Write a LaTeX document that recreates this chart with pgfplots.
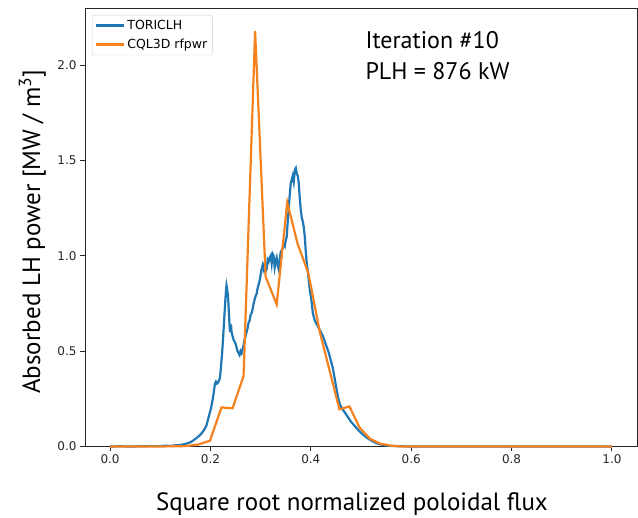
\documentclass[border=0pt]{standalone}
\usepackage{fontspec}
\setmainfont{PT Sans}
\newfontfamily\dv{DejaVu Sans}
\usepackage{pgfplots}
\pgfplotsset{compat=1.18}
\definecolor{tblue}{HTML}{1F77B4}
\definecolor{torange}{HTML}{F5821F}
\begin{document}
\begin{tikzpicture}
\path[use as bounding box] (0,0) rectangle (638pt,518pt);
\begin{axis}[
  at={(85pt,71.5pt)}, anchor=south west,
  scale only axis, width=552pt, height=438.5pt,
  xmin=-0.05, xmax=1.05, ymin=0, ymax=2.30,
  clip=false,
  axis line style={black!85, line width=0.9pt},
  xtick={0,0.2,...,1.0}, ytick={0,0.5,...,2.0},
  xticklabel style={/pgf/number format/.cd, fixed, fixed zerofill, precision=1},
  yticklabel style={/pgf/number format/.cd, fixed, fixed zerofill, precision=1},
  /pgf/number format/assume math mode=true,
  ticklabel style={font=\dv\fontsize{12}{14}\selectfont, text=black!85},
  xtick pos=bottom, ytick pos=left,
  tick align=outside, major tick length=5pt,
  tick style={black!85, line width=0.9pt},
  legend cell align=left,
  legend style={at={(0,1)}, anchor=north west, xshift=7pt, yshift=-7pt,
    font=\dv\fontsize{12.5}{15}\selectfont, draw=black!20, rounded corners=2pt,
    inner xsep=3pt, inner ysep=3pt, row sep=4pt},
  legend image code/.code={\draw[#1, line width=2.2pt] (0pt,0pt) -- (28pt,0pt);},
]
\addplot[tblue, line width=2.2pt] coordinates {
(0.000,0.000)(0.020,0.001)(0.040,0.000)(0.060,0.001)(0.080,0.002)(0.100,0.002)
(0.110,0.004)(0.120,0.003)(0.130,0.006)(0.140,0.008)(0.148,0.012)(0.155,0.018)
(0.160,0.022)(0.165,0.030)(0.170,0.040)(0.175,0.050)(0.180,0.062)(0.184,0.075)
(0.188,0.090)(0.192,0.110)(0.195,0.140)(0.198,0.170)(0.201,0.200)(0.204,0.240)
(0.207,0.290)(0.209,0.330)(0.211,0.340)(0.213,0.330)(0.215,0.335)(0.217,0.345)
(0.219,0.360)(0.221,0.420)(0.223,0.480)(0.225,0.560)(0.227,0.650)(0.229,0.740)
(0.231,0.820)(0.232,0.845)(0.233,0.830)(0.235,0.790)(0.236,0.740)(0.237,0.690)
(0.238,0.640)(0.239,0.600)(0.240,0.620)(0.241,0.640)(0.242,0.600)(0.244,0.580)
(0.246,0.560)(0.248,0.550)(0.250,0.540)(0.252,0.520)(0.254,0.500)(0.256,0.490)
(0.258,0.480)(0.260,0.500)(0.262,0.490)(0.264,0.510)(0.266,0.530)(0.268,0.560)
(0.270,0.580)(0.272,0.600)(0.274,0.620)(0.276,0.650)(0.278,0.660)(0.280,0.690)
(0.282,0.700)(0.284,0.720)(0.286,0.750)(0.288,0.770)(0.290,0.790)(0.292,0.800)
(0.294,0.830)(0.296,0.850)(0.298,0.870)(0.300,0.900)(0.302,0.930)(0.304,0.950)
(0.306,0.930)(0.308,0.960)(0.310,0.920)(0.312,0.930)(0.314,0.980)(0.316,0.970)
(0.318,0.990)(0.320,1.000)(0.322,0.960)(0.324,1.010)(0.326,1.000)(0.328,0.940)
(0.330,0.970)(0.332,0.990)(0.334,0.950)(0.336,0.930)(0.338,0.980)(0.340,1.020)
(0.342,1.030)(0.344,1.040)(0.346,1.060)(0.348,1.050)(0.350,1.080)(0.352,1.100)
(0.354,1.180)(0.356,1.250)(0.358,1.320)(0.360,1.380)(0.362,1.400)(0.364,1.420)
(0.366,1.390)(0.368,1.450)(0.370,1.460)(0.372,1.430)(0.374,1.420)(0.376,1.380)
(0.378,1.300)(0.380,1.240)(0.382,1.200)(0.384,1.180)(0.386,1.150)(0.388,1.100)
(0.390,1.020)(0.392,0.960)(0.394,0.920)(0.396,0.870)(0.398,0.820)(0.400,0.790)
(0.402,0.750)(0.404,0.700)(0.406,0.680)(0.408,0.660)(0.410,0.650)(0.412,0.640)
(0.414,0.630)(0.416,0.620)(0.418,0.610)(0.420,0.600)(0.424,0.580)(0.428,0.550)
(0.432,0.520)(0.436,0.490)(0.440,0.450)(0.444,0.410)(0.448,0.350)(0.452,0.290)
(0.455,0.250)(0.458,0.220)(0.462,0.200)(0.466,0.185)(0.470,0.170)(0.475,0.150)
(0.480,0.130)(0.485,0.115)(0.490,0.100)(0.495,0.085)(0.500,0.072)(0.505,0.060)
(0.510,0.050)(0.515,0.040)(0.520,0.032)(0.525,0.025)(0.530,0.018)(0.535,0.014)
(0.540,0.010)(0.550,0.005)(0.560,0.003)(0.580,0.001)(0.600,0.000)(0.700,0.000)
(0.800,0.000)(0.900,0.000)(1.000,0.000)
};
\addlegendentry{TORICLH}
\addplot[torange, line width=2.2pt] coordinates {
(0.000,0.000)(0.100,0.000)(0.150,0.002)(0.175,0.010)(0.199,0.030)(0.222,0.205)
(0.244,0.200)(0.266,0.370)(0.289,2.180)(0.310,0.890)(0.332,0.745)(0.353,1.280)
(0.374,1.060)(0.395,0.910)(0.418,0.600)(0.457,0.195)(0.477,0.210)(0.497,0.100)
(0.518,0.040)(0.538,0.015)(0.560,0.004)(0.580,0.000)(0.700,0.000)(0.800,0.000)
(0.900,0.000)(1.000,0.000)
};
\addlegendentry{CQL3D rfpwr}
\node[anchor=base west, font=\fontsize{24}{28}\selectfont] at (axis cs:0.502,2.089) {Iteration \#10};
\node[anchor=base west, font=\fontsize{24}{28}\selectfont] at (axis cs:0.502,1.927) {PLH = 876 kW};
\node[anchor=base, font=\fontsize{25}{30}\selectfont] at (axis cs:0.482,-0.338) {Square root normalized poloidal flux};
\node[anchor=base, rotate=90, font=\fontsize{25}{30}\selectfont] at (axis cs:-0.1394,1.127) {Absorbed LH power [MW / m\textsuperscript{3}]};
\end{axis}
\end{tikzpicture}
\end{document}
